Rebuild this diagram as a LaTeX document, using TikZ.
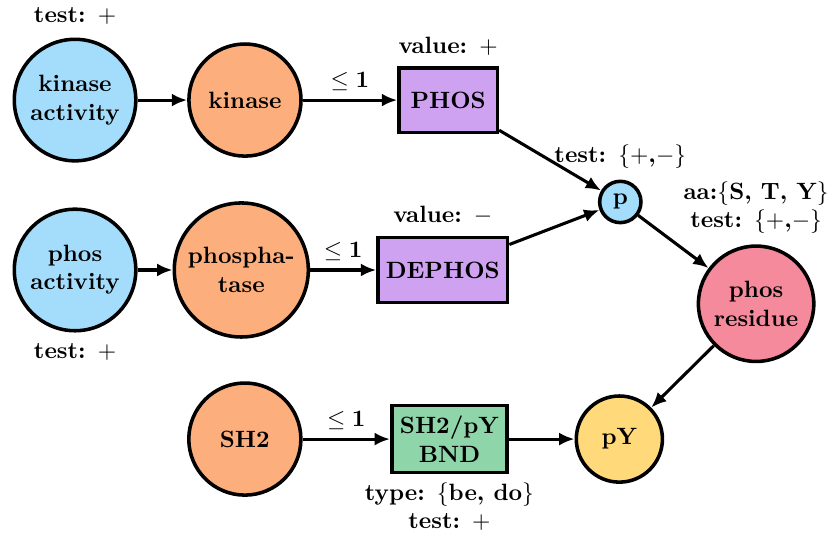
\documentclass[tikz,border=0pt]{standalone}
\usepackage{amsmath,amssymb}
\usepackage{tikz}
\usetikzlibrary{shapes,arrows.meta,positioning}

\definecolor{actblue}{RGB}{164,221,252}
\definecolor{enzorange}{RGB}{252,174,124}
\definecolor{rxnpurple}{RGB}{206,162,240}
\definecolor{respink}{RGB}{244,138,156}
\definecolor{bndgreen}{RGB}{143,213,170}
\definecolor{pyyellow}{RGB}{255,217,122}

\begin{document}
\begin{tikzpicture}[
    every node/.style={font=\bfseries},
    agent/.style={circle, draw, line width=1.5pt, align=center, inner sep=1pt},
    activity/.style={agent, fill=actblue, minimum size=51.5pt},
    enzyme/.style={agent, fill=enzorange, minimum size=47.5pt},
    reaction/.style={rectangle, draw, line width=1.5pt, fill=rxnpurple, align=center, minimum height=27.3pt},
    arrow/.style={-{Latex[length=6.5pt,width=5.5pt]}, line width=1.3pt}
]
\useasboundingbox (-31.8pt,-185.2pt) rectangle (319.9pt,42.4pt);

% --- Nodes ---

% Kinase row
\node[activity, label={[label distance=2pt]above:test: $+$}] (kinact) {kinase\\activity};
\node[enzyme, right=21pt of kinact] (kinase) {kinase};
\node[reaction, minimum width=41.7pt, right=40pt of kinase, label={[label distance=1pt]above:value: $+$}] (phos) {PHOS};

% Phosphatase row
\node[activity, below=19pt of kinact, label={[label distance=1pt]below:test: $+$}] (phosact) {phos\\activity};
\node[enzyme, minimum size=56.8pt, right=14.8pt of phosact] (phosphatase) {phospha-\\tase};
\node[reaction, minimum width=54.5pt, minimum height=27.7pt, right=28pt of phosphatase, label={[label distance=1pt]above:value: $-$}] (dephos) {DEPHOS};

% Binding row
\node[enzyme, below=18pt of phosphatase, xshift=1.5pt] (sh2) {SH2};
\node[reaction, fill=bndgreen, minimum width=48.9pt, minimum height=28.5pt, right=37pt of sh2, label={[align=center]below:type: $\{$be, do$\}$\\test: $+$}] (bnd) {SH2/pY\\BND};
\node[agent, fill=pyyellow, minimum size=36.5pt, right=27.8pt of bnd] (py) {pY};

% Site and residue
\node[agent, fill=actblue, minimum size=17.5pt, inner sep=0pt, above right=7.5pt and 40.3pt of dephos, label={[label distance=1pt]above:test: $\{+$,$-\}$}] (p) {p};
\node[agent, fill=respink, minimum size=48.9pt, below right=18.6pt and 33pt of p, label={[align=center, label distance=1pt]above:aa:$\{$S, T, Y$\}$\\test: $\{+$,$-\}$}] (residue) {phos\\residue};

% --- Arrows ---
\draw[arrow] (kinact) -- (kinase);
\draw[arrow] (kinase) -- (phos) node[midway, above] {$\leq \mathbf{1}$};
\draw[arrow] (phosact) -- (phosphatase);
\draw[arrow] (phosphatase) -- (dephos) node[midway, above] {$\leq \mathbf{1}$};
\draw[arrow] (sh2) -- (bnd) node[midway, above] {$\leq \mathbf{1}$};
\draw[arrow] (bnd) -- (py);

\draw[arrow] (phos) -- (p);
\draw[arrow] (dephos) -- (p);
\draw[arrow] (p) -- (residue);
\draw[arrow] (residue) -- (py);

\end{tikzpicture}
\end{document}
